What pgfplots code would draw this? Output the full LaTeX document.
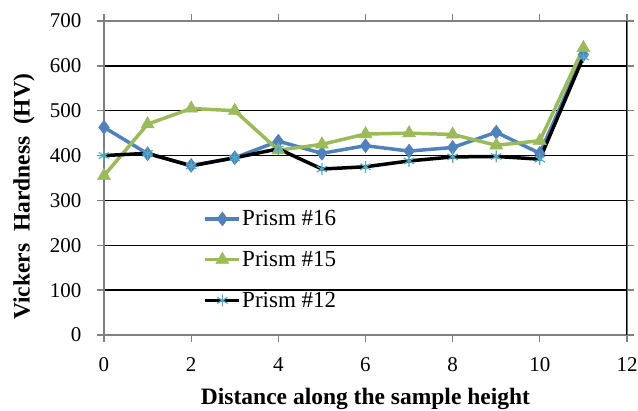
\documentclass[border=0pt]{standalone}
\usepackage{fontspec}
\setmainfont{Liberation Serif}
\usepackage{pgfplots}
\pgfplotsset{compat=1.18}
\definecolor{cblue}{HTML}{4F81BD}
\definecolor{cgreen}{HTML}{9BBB59}
\definecolor{ccyan}{HTML}{4BACC6}
\definecolor{cgray}{HTML}{808080}
\begin{document}
\begin{tikzpicture}
\useasboundingbox (-104pt,-76pt) rectangle (534pt,335pt);
\begin{axis}[
  at={(0,0)}, anchor=south west,
  scale only axis, width=523pt, height=314pt,
  xmin=0, xmax=12, ymin=0, ymax=700,
  xtick={0,2,...,12}, ytick={0,100,...,700},
  xticklabel={\textrm{\pgfmathprintnumber[assume math mode=true]{\tick}}},
  yticklabel={\textrm{\pgfmathprintnumber[assume math mode=true]{\tick}}},
  ymajorgrids, grid style={black, line width=1.3pt},
  axis line style={cgray, line width=1.3pt},
  tick style={cgray, line width=1.3pt},
  tick align=outside, major tick length=7pt,
  x tick label style={font=\fontsize{21}{24}\selectfont, yshift=-12pt},
  y tick label style={font=\fontsize{21}{24}\selectfont, xshift=-12pt},
  xlabel={\textbf{Distance along the sample height}},
  ylabel={\textbf{Vickers\ \ Hardness\ \ (HV)}},
  label style={font=\fontsize{23.5}{27}\selectfont},
  xlabel style={at={(axis description cs:0.5,-0.205)}, anchor=center},
  ylabel style={at={(axis description cs:-0.153,0.44)}, anchor=center},
  legend style={draw=none, fill=none, at={(axis description cs:0.19,0.40)}, anchor=north west,
    font=\fontsize{23}{27}\selectfont, row sep=22pt, inner sep=0pt,
    nodes={inner sep=1pt}},
  legend cell align=left,
  legend image code/.code={%
    \draw[#1, mark repeat=2, mark phase=2] plot coordinates {(0cm,0cm) (0.6cm,0cm) (1.2cm,0cm)};},
]
\draw[black, line width=1.3pt] (axis cs:12,0) -- (axis cs:12,700);
\addplot[cblue, line width=3.5pt, mark=diamond*, mark size=7pt, mark options={solid, line width=0.5pt, fill=cblue}]
coordinates {(0,463) (1,404) (2,378) (3,395) (4,432) (5,405) (6,422) (7,410) (8,418) (9,452) (10,405) (11,625)};
\addlegendentry{Prism \#16}
\addplot[cgreen, line width=3.5pt, mark=triangle*, mark size=7.5pt, mark options={solid, line width=0.5pt, fill=cgreen}]
coordinates {(0,355) (1,470) (2,505) (3,500) (4,412) (5,425) (6,448) (7,450) (8,447) (9,423) (10,433) (11,640)};
\addlegendentry{Prism \#15}
\addplot[black, line width=3.5pt, mark=asterisk, mark size=6pt, mark options={solid, draw=ccyan, line width=1.2pt}]
coordinates {(0,400) (1,405) (2,377) (3,395) (4,415) (5,370) (6,375) (7,388) (8,397) (9,398) (10,392) (11,620)};
\addlegendentry{Prism \#12}
\end{axis}
\end{tikzpicture}
\end{document}
